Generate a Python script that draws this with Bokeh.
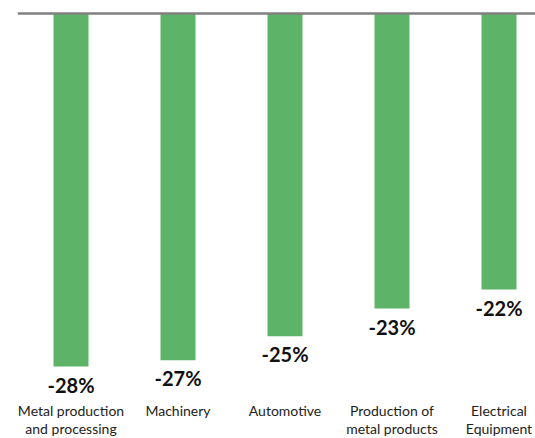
from bokeh.plotting import figure
from bokeh.models import ColumnDataSource, Range1d, Span
from bokeh.core.properties import value
from bokeh.embed import file_html
from bokeh.resources import INLINE

categories = ["Metal production\nand processing", "Machinery", "Automotive",
              "Production of\nmetal products", "Electrical\nEquipment"]
values = [-28.0, -27.5, -25.6, -23.4, -21.9]
value_labels = ["-28%", "-27%", "-25%", "-23%", "-22%"]

xs = list(range(len(categories)))
src = ColumnDataSource(dict(x=xs, top=[0] * len(xs), bottom=values,
                            lab=value_labels, cat=categories,
                            caty=[-30.85] * len(xs)))

p = figure(width=535, height=438, output_backend="svg", toolbar_location=None,
           x_range=Range1d(-0.5, -0.5 + 518 / 107), y_range=Range1d(-33.71, 1.031),
           x_axis_location=None, y_axis_location=None,
           min_border_left=17, min_border_right=0, min_border_top=0, min_border_bottom=0)
p.outline_line_color = None
p.grid.visible = False
p.background_fill_color = "white"

p.vbar(x="x", top="top", bottom="bottom", width=0.327, source=src,
       fill_color="#5db367", line_color=None)

p.add_layout(Span(location=0, dimension="width", line_color="#808080", line_width=2.5))

p.text(x="x", y="bottom", text="lab", source=src, text_align="center", text_baseline="top",
       y_offset=6, text_font=value("Lato"), text_font_style="bold", text_font_size="20px",
       text_color="#111111")

p.text(x="x", y="caty", text="cat", source=src, text_align="center", text_baseline="top",
       text_font=value("Lato"), text_font_size="14px", text_line_height=1.05,
       text_color="#222222")

open("out.html", "w").write(file_html(p, INLINE))
